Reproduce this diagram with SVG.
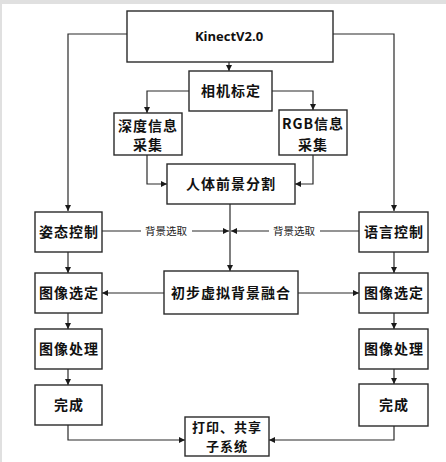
<svg xmlns="http://www.w3.org/2000/svg" width="446" height="462" viewBox="0 0 446 462">
<defs>
<marker id="ah" viewBox="0 0 10 10" refX="10" refY="5" markerWidth="6" markerHeight="6" markerUnits="userSpaceOnUse" orient="auto">
<path d="M0,0 L10,5 L0,10 z" fill="#1a1a1a"/>
</marker>
<style>
.box{fill:#fff;stroke:#2a2a2a;stroke-width:1.4}
.ln{fill:none;stroke:#2a2a2a;stroke-width:1.2}
.t{font-family:"Noto Sans CJK SC","Liberation Serif",serif;font-size:14px;font-weight:bold;fill:#111;text-anchor:middle;letter-spacing:1px}
.t2{font-family:"Noto Sans CJK SC","Liberation Serif",serif;font-size:13px;font-weight:bold;fill:#111;text-anchor:middle;letter-spacing:1px}
.s{font-family:"Noto Sans CJK SC","Liberation Serif",serif;font-size:10.5px;fill:#222;text-anchor:middle}
</style>
</defs>
<rect x="0" y="0" width="446" height="462" fill="#fff"/>
<rect x="0" y="0" width="446" height="4" fill="#e0e0e0"/>
<rect x="0" y="0" width="2" height="462" fill="#e0e0e0"/>
<g id="connectors">
<path class="ln" d="M127,34 H68 V211" marker-end="url(#ah)"/>
<path class="ln" d="M333,34 H394 V211" marker-end="url(#ah)"/>
<path class="ln" d="M229,62 V71" marker-end="url(#ah)"/>
<path class="ln" d="M189,91 H147 V113" marker-end="url(#ah)"/>
<path class="ln" d="M272,91 H313 V110" marker-end="url(#ah)"/>
<path class="ln" d="M147,155 V184 H167" marker-end="url(#ah)"/>
<path class="ln" d="M313,155 V184 H295" marker-end="url(#ah)"/>
<path class="ln" d="M230,204 V271" marker-end="url(#ah)"/>
<path class="ln" d="M102,231 H229" marker-end="url(#ah)"/>
<path class="ln" d="M359,231 H231" marker-end="url(#ah)"/>
<path class="ln" d="M164,293 H102" marker-end="url(#ah)"/>
<path class="ln" d="M298,293 H359" marker-end="url(#ah)"/>
<path class="ln" d="M68,252 V273" marker-end="url(#ah)"/>
<path class="ln" d="M68,313 V329" marker-end="url(#ah)"/>
<path class="ln" d="M68,369 V385" marker-end="url(#ah)"/>
<path class="ln" d="M394,252 V273" marker-end="url(#ah)"/>
<path class="ln" d="M394,313 V329" marker-end="url(#ah)"/>
<path class="ln" d="M394,369 V384" marker-end="url(#ah)"/>
<path class="ln" d="M68,425 V440 H185" marker-end="url(#ah)"/>
<path class="ln" d="M394,426 V440 H269" marker-end="url(#ah)"/>
<rect x="141" y="224" width="51" height="14" fill="#fff"/>
<text class="s" x="166" y="235">背景选取</text>
<rect x="269" y="224" width="51" height="14" fill="#fff"/>
<text class="s" x="294" y="235">背景选取</text>
</g>
<g id="kinect"><rect class="box" x="127" y="11" width="206" height="51"/><text x="229" y="41" text-anchor="middle" font-family="'Open Sans','Liberation Sans',sans-serif" font-size="13" font-weight="bold" fill="#111">KinectV2.0</text></g>
<g id="calib"><rect class="box" x="189" y="71" width="83" height="40"/><text class="t" x="231" y="96">相机标定</text></g>
<g id="depth"><rect class="box" x="114" y="113" width="68" height="42"/><text class="t" x="148" y="131">深度信息</text><text class="t" x="148" y="150">采集</text></g>
<g id="rgb"><rect class="box" x="279" y="110" width="68" height="45"/><text class="t" x="313" y="129">RGB信息</text><text class="t" x="313" y="150">采集</text></g>
<g id="seg"><rect class="box" x="167" y="164" width="128" height="40"/><text class="t" x="231" y="189">人体前景分割</text></g>
<g id="pose"><rect class="box" x="35" y="212" width="67" height="40"/><text class="t" x="69" y="237">姿态控制</text></g>
<g id="voice"><rect class="box" x="359" y="212" width="69" height="40"/><text class="t" x="394" y="237">语言控制</text></g>
<g id="fuse"><rect class="box" x="164" y="271" width="134" height="43"/><text class="t" x="231" y="298">初步虚拟背景融合</text></g>
<g id="selL"><rect class="box" x="35" y="273" width="67" height="40"/><text class="t" x="69" y="298">图像选定</text></g>
<g id="selR"><rect class="box" x="359" y="273" width="69" height="40"/><text class="t" x="394" y="298">图像选定</text></g>
<g id="procL"><rect class="box" x="35" y="329" width="67" height="40"/><text class="t" x="69" y="354">图像处理</text></g>
<g id="procR"><rect class="box" x="359" y="329" width="69" height="40"/><text class="t" x="394" y="354">图像处理</text></g>
<g id="doneL"><rect class="box" x="35" y="385" width="67" height="40"/><text class="t" x="69" y="410">完成</text></g>
<g id="doneR"><rect class="box" x="359" y="384" width="69" height="42"/><text class="t" x="394" y="410">完成</text></g>
<g id="print"><rect class="box" x="185" y="417" width="84" height="39"/><text class="t2" x="227" y="432">打印、共享</text><text class="t2" x="227" y="451">子系统</text></g>
</svg>
